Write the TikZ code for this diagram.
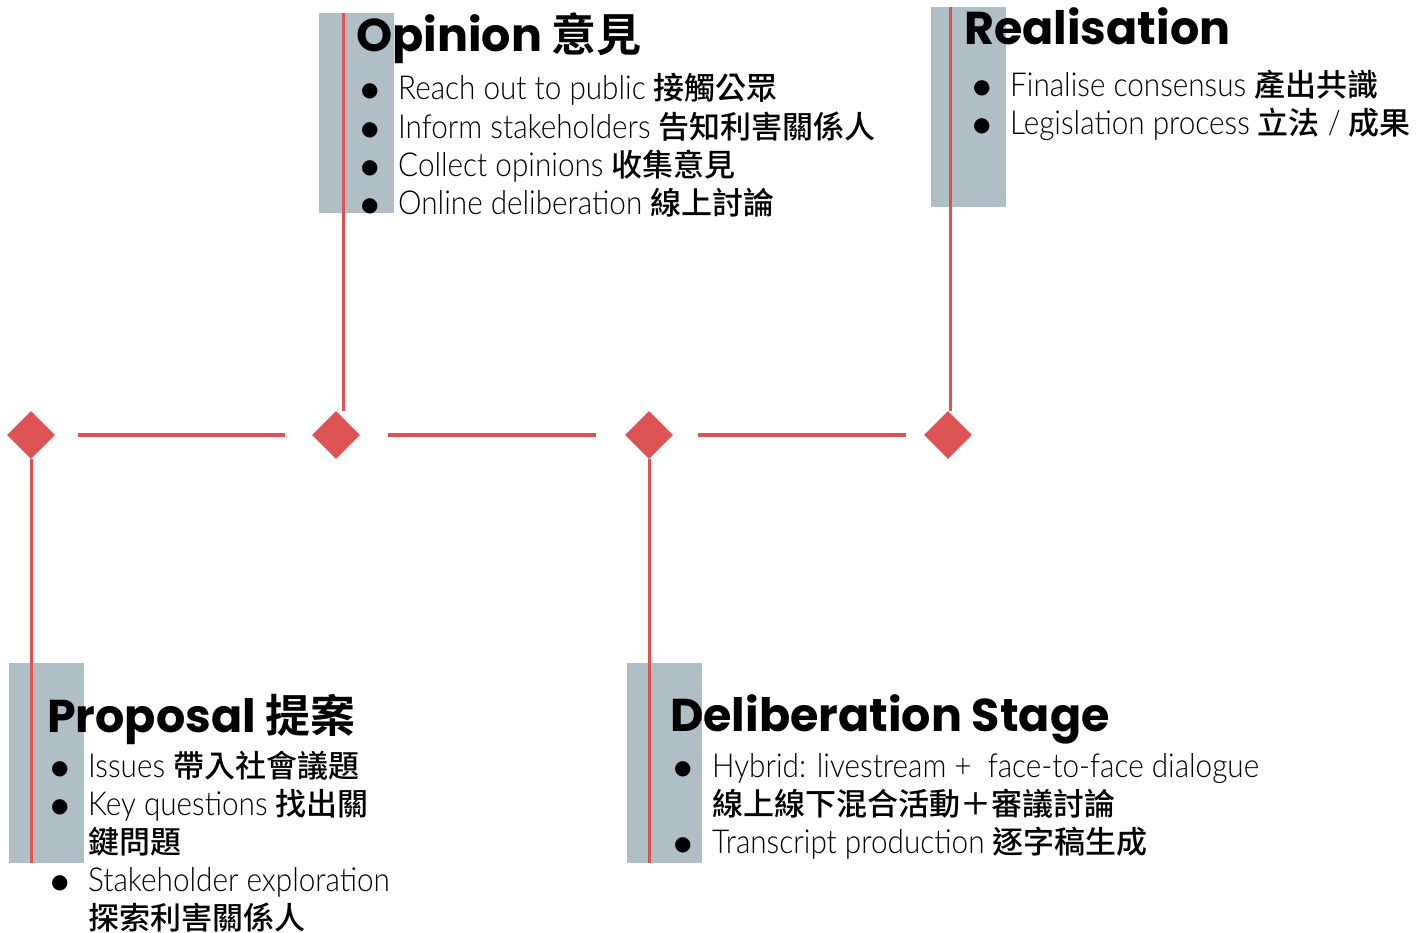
\documentclass[tikz,border=0pt]{standalone}
\usepackage{fontspec}
\usetikzlibrary{shapes.geometric}
\setmainfont{Lato Light}[FakeStretch=0.9]
\newfontfamily\titlefont{Poppins}
\newfontfamily\cjk{Noto Sans CJK TC}[UprightFont=* Medium, BoldFont=* Bold]
\newfontfamily\symfont{DejaVu Sans}
\definecolor{stagered}{RGB}{221,82,82}
\definecolor{stagegrey}{RGB}{176,190,197}
\newcommand{\zh}[1]{{\cjk\fontsize{31}{38}\selectfont #1}}
\newcommand{\zht}[1]{{\cjk\bfseries\fontsize{45}{50}\selectfont #1}}
\newcommand{\bul}{\raisebox{3pt}{\symfont\fontsize{20}{38}\selectfont ●}}
\begin{document}
\begin{tikzpicture}[
      x=1pt, y=-1pt,
      D/.style={diamond, fill=stagered, minimum width=48pt, minimum height=48pt, inner sep=0pt},
      G/.style={fill=stagegrey},
      T/.style={anchor=base west, inner sep=0pt, font=\titlefont\bfseries\fontsize{46}{50}\selectfont},
      B/.style={anchor=base west, inner sep=0pt, font=\fontsize{33}{38}\selectfont},
      link/.style={draw=stagered, line width=4pt, shorten <=24pt, shorten >=25pt},
      stem/.style={draw=stagered, line width=3pt}]
      \useasboundingbox (0,0) rectangle (1421,933);
      % grey bars
      \fill[G] (319,13) rectangle (394,213);
      \fill[G] (931,7) rectangle (1006,207);
      \fill[G] (9,663) rectangle (84,863);
      \fill[G] (627,663) rectangle (702,863);
      % timeline
      \node[D] (d1) at (31,435) {};
      \node[D] (d2) at (336,435) {};
      \node[D] (d3) at (649,435) {};
      \node[D] (d4) at (948,435) {};
      \coordinate (opTop) at (343,13);
      \coordinate (reTop) at (950,7);
      \coordinate (prFoot) at (31,863);
      \coordinate (deFoot) at (649,863);
      \draw[stem] (opTop) -- (opTop |- d2.north);
      \draw[stem] (reTop) -- (reTop |- d4.north);
      \draw[stem] (d1.south) -- (prFoot);
      \draw[stem] (d3.south) -- (deFoot);
      \draw[link, shorten <=23pt, shorten >=27pt] (d1) -- (d2);
      \draw[link, shorten <=28pt, shorten >=29pt] (d2) -- (d3);
      \draw[link, shorten <=25pt, shorten >=18pt] (d3) -- (d4);
      % stages
      \node[T] (opT) at (356,52) {Opinion \zht{意見}};
      \node[B] (opL) at (361,100) {\begin{tabular}[t]{@{}p{37pt}@{}l@{}}
        \bul & Reach out to public \zh{接觸公眾}\\
        \bul & Inform stakeholders \zh{告知利害關係人}\\
        \bul & Collect opinions \zh{收集意見}\\
        \bul & Online deliberation \zh{線上討論}
      \end{tabular}};
      \node[T] (reT) at (964,45) {Realisation};
      \node[B] (reL) at (973,97) {\begin{tabular}[t]{@{}p{37pt}@{}l@{}}
        \bul & Finalise consensus \zh{產出共識}\\
        \bul & Legislation process \zh{立法} / \zh{成果}
      \end{tabular}};
      \node[T] (prT) at (47,732) {Proposal \zht{提案}};
      \node[B] (prL) at (51,777) {\begin{tabular}[t]{@{}p{37pt}@{}l@{}}
        \bul & Issues \zh{帶入社會議題}\\
        \bul & Key questions \zh{找出關}\\
             & \zh{鍵問題}\\
        \bul & Stakeholder exploration\\
             & \zh{探索利害關係人}
      \end{tabular}};
      \node[T] (deT) at (670,731) {Deliberation Stage};
      \node[B] (deL) at (674,777) {\begin{tabular}[t]{@{}p{38pt}@{}l@{}}
        \bul & Hybrid: livestream +\ \ face-to-face dialogue\\
             & \zh{線上線下混合活動＋審議討論}\\
        \bul & Transcript production \zh{逐字稿生成}
      \end{tabular}};
    \end{tikzpicture}
\end{document}
